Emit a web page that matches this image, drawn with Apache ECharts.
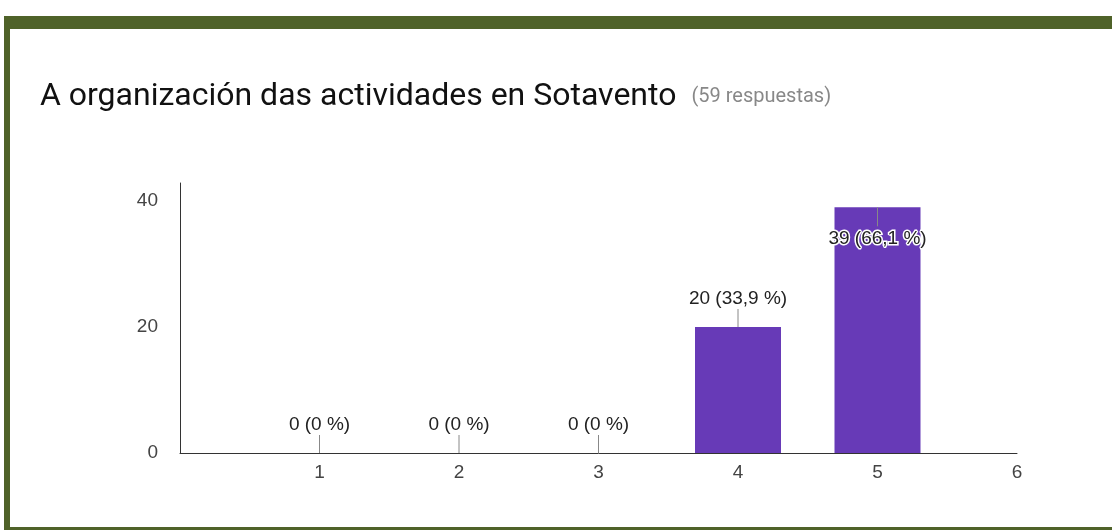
<!DOCTYPE html>
<html>
<head>
<meta charset="utf-8">
<script src="https://cdn.jsdelivr.net/npm/echarts@6/dist/echarts.min.js"></script>
<style>
  html, body { margin: 0; padding: 0; background: #fff; }
  #frame {
    position: absolute; left: 4px; top: 16px; width: 1108px; height: 498px;
    border-top: 13px solid #4f6229; border-left: 6px solid #4f6229; border-bottom: 3px solid #4f6229;
    background: #fff;
  }
  #container { width: 1102px; height: 498px; }
</style>
</head>
<body>
<div id="frame"><div id="container"></div></div>
<script>
var categories = [1, 2, 3, 4, 5];
var counts = [0, 0, 0, 20, 39];
var total = 59;

var dom = document.getElementById("container");
var myChart = echarts.init(dom);

function pct(v) {
    var p = Math.round(v / total * 1000) / 10;
    return String(p).replace('.', ',') + ' %';
}

var points = categories.map(function (c, i) { return [c, counts[i]]; });
var maxCount = Math.max.apply(null, counts);

var option = {
    animation: false,
    title: {
        left: 25,
        top: 44,
        text: '{a|A organización das actividades en Sotavento}{b|(59 respuestas)}',
        textStyle: {
            fontWeight: 'normal',
            rich: {
                a: { fontFamily: 'Roboto', fontSize: 32, fontWeight: 'normal', color: '#111', lineHeight: 38 },
                b: { fontFamily: 'Roboto', fontSize: 20, fontWeight: 'normal', color: '#888', lineHeight: 38, padding: [0, 0, 0, 15] }
            }
        }
    },
    grid: { left: 170, right: 95, top: 154, bottom: 74 },
    xAxis: {
        type: 'value',
        min: 0, max: 6, interval: 1,
        splitLine: { show: false },
        axisTick: { show: false },
        axisLine: { show: true, lineStyle: { color: '#333', width: 1 } },
        axisLabel: { showMinLabel: false, color: '#444', fontSize: 19, fontFamily: 'Arial', margin: 10 }
    },
    yAxis: {
        type: 'value',
        min: 0, max: 42.86, interval: 20,
        splitLine: { show: false },
        axisTick: { show: false },
        axisLine: { show: true, lineStyle: { color: '#333', width: 1 } },
        axisLabel: { showMaxLabel: false, color: '#444', fontSize: 19, fontFamily: 'Arial', margin: 22 }
    },
    series: [{
        type: 'bar',
        data: points,
        barWidth: 86,
        itemStyle: { color: '#673ab7' }
    }, {
        type: 'custom',
        data: points,
        z: 10,
        encode: { x: 0, y: 1 },
        renderItem: function (params, api) {
            var v = api.value(1);
            var p = api.coord([api.value(0), v]);
            var inside = v === maxCount;
            var y1 = inside ? p[1] + 19 : p[1] - 18;
            var ty = inside ? p[1] + 31 : p[1] - 28;
            return {
                type: 'group',
                children: [{
                    type: 'line',
                    shape: { x1: p[0], y1: p[1], x2: p[0], y2: y1 },
                    style: { stroke: '#888', lineWidth: 1 }
                }, {
                    type: 'text',
                    style: {
                        text: v + ' (' + pct(v) + ')',
                        x: p[0], y: ty,
                        align: 'center', verticalAlign: 'middle',
                        font: '19px Arial',
                        fill: '#222',
                        stroke: inside ? '#fff' : null,
                        lineWidth: inside ? 3 : 0
                    }
                }]
            };
        }
    }]
};

if (option && typeof option === "object") {
    myChart.setOption(option, true);
}
</script>
</body>
</html>
